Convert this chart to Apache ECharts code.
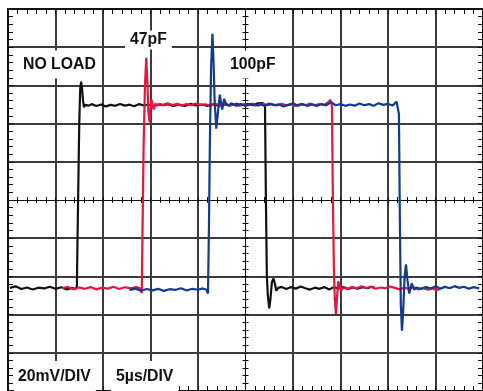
<!DOCTYPE html>
<html>
<head>
<meta charset="utf-8">
<script src="https://cdn.jsdelivr.net/npm/echarts@6/dist/echarts.min.js"></script>
<style>
html,body{margin:0;padding:0;background:#fff;}
#chart{width:483px;height:391px;}
</style>
</head>
<body>
<div id="chart"></div>
<script>
// time in µs (centre of screen = 0), amplitude in mV
var timeRange = [-25, 25];   // 5 µs/DIV
var voltRange = [-100, 100]; // 20 mV/DIV

var noLoad = [
  [-24.8,-46.0],[-24.2,-45.2],[-23.6,-46.6],[-23.0,-45.8],[-22.4,-46.9],[-21.8,-45.9],[-21.2,-46.3],
  [-20.6,-45.4],[-20.0,-46.5],[-19.4,-45.7],[-18.8,-46.8],[-18.3,-46.0],[-17.9,-46.6],[-17.75,-45.5],
  [-17.65,-10],[-17.5,40],[-17.4,58],[-17.3,62.0],[-17.2,58],[-17.1,52],[-17.0,48.5],[-16.9,49.8],
  [-16.75,48.8],[-16.5,49.4],[-16.2,50.2],[-15.7,49.2],[-15.2,50.0],[-14.7,49.0],[-14.2,49.8],
  [-13.7,49.3],[-13.2,50.3],[-12.7,49.4],[-12.2,49.9],[-11.7,49.1],[-11.2,50.2],[-10.7,49.5],
  [-10.2,49.9],[-9.7,49.2],[-9.2,50.0],[-8.7,49.6],[-8.2,50.1],[-7.6,49.3],[-7.0,49.9],[-6.4,49.2],
  [-5.8,50.3],[-5.2,49.5],[-4.6,50.0],[-4.0,49.3],[-3.4,50.1],[-2.8,49.4],[-2.2,50.0],[-1.6,49.5],
  [-1.0,50.4],[-0.4,49.6],[0.2,50.2],[0.8,49.7],[1.3,50.6],[1.8,50.8],[2.05,49.5],
  [2.15,0],[2.25,-40],[2.35,-50],[2.5,-56.8],[2.62,-52],[2.78,-43],[2.95,-41.1],[3.1,-44],
  [3.25,-47.5],[3.45,-46.0],[3.8,-45.5],[4.3,-46.6],[4.8,-45.6],[5.3,-46.4],[5.8,-45.3],[6.3,-46.2],
  [6.8,-46.9],[7.3,-45.9],[7.8,-46.5],[8.3,-45.6],[8.8,-46.8],[9.3,-45.7],[9.8,-46.3],[10.3,-45.5],
  [10.8,-46.6],[11.3,-45.8],[11.8,-46.4],[12.3,-45.6],[12.8,-46.2],[13.3,-45.4],[13.6,-46.0]
];

var load47pF = [
  [-19.3,-46.2],[-18.7,-45.5],[-18.1,-46.7],[-17.5,-45.8],[-16.9,-46.5],[-16.3,-45.6],[-15.7,-46.8],
  [-15.1,-45.9],[-14.5,-46.4],[-13.9,-45.4],[-13.3,-46.6],[-12.7,-45.7],[-12.1,-46.3],[-11.5,-45.6],
  [-11.1,-46.2],[-10.92,-48.8],[-10.85,-20],[-10.72,30],[-10.58,60],[-10.45,74.5],[-10.33,62],
  [-10.22,46],[-10.1,40.6],[-10.0,47],[-9.9,52.6],[-9.78,49.5],[-9.66,47.4],[-9.5,50.5],[-9.3,49.4],
  [-9.0,50.3],[-8.7,49.8],[-8.2,50.6],[-7.7,49.7],[-7.2,50.3],[-6.7,49.4],[-6.2,50.2],[-5.7,49.6],
  [-5.2,50.5],[-4.7,49.8],[-4.2,50.1],[-3.7,49.2],[-3.2,50.4],[-2.7,49.7],[-2.2,50.6],[-1.7,49.5],
  [-1.2,50.2],[-0.7,49.3],[-0.2,50.1],[0.3,49.6],[0.8,50.4],[1.3,49.4],[1.8,50.3],[2.3,49.7],
  [2.8,50.2],[3.3,49.5],[3.8,50.4],[4.3,49.6],[4.8,50.0],[5.3,49.3],[5.8,50.2],[6.3,49.6],[6.8,50.5],
  [7.3,49.7],[7.8,50.2],[8.3,49.8],[8.7,51.2],[8.95,52.4],[9.1,49],[9.2,0],[9.3,-35],[9.4,-52],
  [9.52,-59.7],[9.62,-52],[9.76,-42.5],[9.9,-45],[10.05,-47.5],[10.3,-45.8],[10.7,-46.6],
  [11.2,-45.5],[11.7,-46.3],[12.2,-45.2],[12.7,-46.1],[13.2,-45.4],[13.7,-46.5],[14.2,-45.8],
  [14.7,-46.2],[15.2,-45.3],[15.7,-46.0],[16.2,-46.8],[16.7,-45.9],[17.2,-46.5],[17.7,-45.7],
  [18.2,-46.8],[18.7,-46.0],[19.2,-47.0],[19.7,-46.3],[20.1,-47.2],[20.5,-46.6]
];

var load100pF = [
  [-12.2,-47.2],[-11.6,-46.4],[-11.0,-47.5],[-10.4,-46.6],[-9.8,-47.3],[-9.2,-46.5],[-8.6,-47.6],
  [-8.0,-46.7],[-7.4,-47.1],[-6.8,-46.2],[-6.2,-47.4],[-5.6,-46.5],[-5.0,-47.0],[-4.5,-46.3],
  [-4.1,-47.0],[-3.95,-49.0],[-3.85,-15],[-3.75,30],[-3.62,70],[-3.48,87.0],[-3.38,75],[-3.25,52],
  [-3.08,37.3],[-2.9,46],[-2.7,55.2],[-2.58,51],[-2.45,47.4],[-2.25,53.0],[-2.05,50.2],[-1.8,49.4],
  [-1.5,50.6],[-1.0,49.4],[-0.5,50.3],[0.0,49.2],[0.5,50.4],[1.0,49.5],[1.5,50.2],[2.0,49.3],
  [2.5,50.5],[3.0,49.6],[3.5,50.1],[4.0,49.0],[4.5,49.8],[5.0,50.6],[5.5,49.4],[6.0,50.2],[6.5,49.3],
  [7.0,50.0],[7.5,49.2],[8.0,50.3],[8.5,49.5],[9.0,51.2],[9.5,49.6],[10.0,50.2],[10.5,49.3],
  [11.0,50.0],[11.5,49.4],[12.0,50.5],[12.5,49.6],[13.0,50.2],[13.5,49.3],[14.0,50.7],[14.5,49.8],
  [15.0,50.3],[15.5,49.5],[15.9,51.5],[16.05,52.4],[16.15,45],[16.25,-10],[16.35,-55],[16.47,-68.4],
  [16.6,-58],[16.75,-40],[16.89,-33.7],[17.05,-42],[17.24,-49.0],[17.5,-43.7],[17.75,-47.0],
  [18.0,-45.8],[18.5,-46.6],[19.0,-45.6],[19.5,-46.3],[20.0,-45.2],[20.5,-46.4],[21.0,-45.5],
  [21.5,-46.2],[22.0,-45.1],[22.5,-46.0],[23.0,-45.4],[23.5,-46.5],[24.0,-45.6],[24.6,-46.3]
];

var traceNames = ['NO LOAD', '47pF', '100pF'];
var traceColors = ['#111111', '#e3173e', '#123b8c'];

var chart = echarts.init(document.getElementById('chart'), null, {renderer: 'canvas'});

var GRIDC = '#3c3c3c';
function splitColors() {
  var c = [];
  for (var i = 0; i <= 10; i++) c.push(i === 5 ? 'rgba(0,0,0,0)' : GRIDC);
  return c;
}
function borderAxis(pos, split) {
  var horiz = (pos === 'top' || pos === 'bottom');
  return {
    type: 'value', position: pos,
    min: horiz ? timeRange[0] : voltRange[0],
    max: horiz ? timeRange[1] : voltRange[1],
    interval: horiz ? 5 : 20,
    axisLine: {show: true, onZero: false, lineStyle: {color: '#111', width: 2}},
    axisTick: {show: true, inside: true, length: 5, lineStyle: {color: '#111', width: 1}},
    minorTick: {show: true, splitNumber: 5, length: 5, lineStyle: {color: '#111', width: 1}},
    axisLabel: {show: false},
    splitLine: {show: split, lineStyle: {color: splitColors(), width: 2}},
    minorSplitLine: {show: false}
  };
}
function centerAxis(dim, inside) {
  return {
    type: 'value', position: dim === 'x' ? 'bottom' : 'left',
    min: dim === 'x' ? timeRange[0] : voltRange[0],
    max: dim === 'x' ? timeRange[1] : voltRange[1],
    interval: dim === 'x' ? 5 : 20,
    axisLine: {show: true, onZero: true, onZeroAxisIndex: 0, lineStyle: {color: '#111', width: 1}},
    axisTick: {show: true, inside: inside, length: 3, lineStyle: {color: '#111', width: 1}},
    minorTick: {show: true, splitNumber: 5, length: 3, lineStyle: {color: '#111', width: 1}},
    axisLabel: {show: false},
    splitLine: {show: false},
    minorSplitLine: {show: false}
  };
}

var FONT = 'bold 15.8px "Liberation Sans", Arial, sans-serif';
// x = left edge of the text itself; box padding extends around it
function label(txt, x, y, pad) {
  return {
    type: 'text', x: x - pad[3], y: y + (pad[0] - pad[2]) / 2, z: 100,
    style: {
      text: txt, font: FONT, fill: '#111',
      textAlign: 'left', textVerticalAlign: 'middle',
      backgroundColor: '#fff', padding: pad
    }
  };
}

var seriesData = [noLoad, load47pF, load100pF];
var option = {
  animation: false,
  backgroundColor: '#fff',
  grid: {left: 8, top: 9, width: 479, height: 384, containLabel: false},
  xAxis: [borderAxis('bottom', true), borderAxis('top', false), centerAxis('x', true), centerAxis('x', false)],
  yAxis: [borderAxis('left', true), borderAxis('right', false), centerAxis('y', true), centerAxis('y', false)],
  series: seriesData.map(function (d, i) {
    return {
      name: traceNames[i], type: 'line', data: d, xAxisIndex: 0, yAxisIndex: 0,
      showSymbol: false, symbol: 'none', smooth: false, z: 10 + i,
      lineStyle: {color: traceColors[i], width: 2.2},
      itemStyle: {color: traceColors[i]}
    };
  }),
  graphic: [
    label('NO LOAD', 23, 64.5, [6, 5, 6, 5]),
    label('47pF', 130, 40.5, [1, 5, 2, 5]),
    label('100pF', 230, 64.5, [6, 5, 6, 5]),
    label('20mV/DIV', 18, 377, [7, 5, 8, 4]),
    label('5\u00b5s/DIV', 116, 377, [7, 5, 8, 5])
  ]
};
chart.setOption(option);
</script>
</body>
</html>
